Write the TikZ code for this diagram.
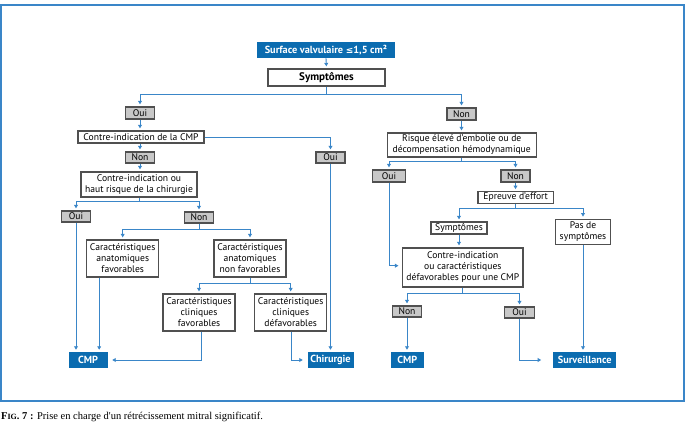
\documentclass[tikz,border=0pt]{standalone}
\usepackage{fontspec}
\setmainfont{PT Sans}
\newfontfamily\capfont{Liberation Serif}
\newfontfamily\symfont{DejaVu Sans}
\usetikzlibrary{arrows.meta}
\definecolor{lblue}{HTML}{3A86C8}
\definecolor{fblue}{HTML}{0B6CB0}
\definecolor{bgray}{HTML}{505050}
\definecolor{gfill}{HTML}{C8C8C8}
\begin{document}
\begin{tikzpicture}[x=1pt,y=-1pt,
  bw/.style={minimum width=#1pt},
  bh/.style={minimum height=#1pt},
  box/.style={draw=bgray, line width=1.2pt, fill=white, inner sep=0pt, align=center, font=\fontsize{9.6}{11}\selectfont},
  gbox/.style={box, fill=gfill},
  bbox/.style={fill=fblue, text=white, inner sep=0pt, align=center, font=\bfseries\fontsize{10.3}{11}\selectfont},
  ln/.style={draw=lblue, line width=0.9pt},
  arr/.style={ln, -{Triangle[length=3.5pt,width=3.8pt]}, shorten >=2pt}]
\useasboundingbox (0,0) rectangle (686,430);
\draw[lblue, line width=1.2pt] (1,5) rectangle (684,401);
% top
\node[bbox, bw=138, bh=16] (surf) at (326,50) {Surface valvulaire {\symfont\fontsize{9}{11}\selectfont ≤}1,5 cm²};
\node[box, bw=117, bh=17, font=\bfseries\fontsize{11}{12}\selectfont] (sym) at (326.5,77.5) {Symptômes};
% left branch
\node[gbox, bw=29, bh=12] (oui1) at (140,113) {Oui};
\node[box, bw=126, bh=12] (ci) at (141,137) {Contre-indication de la CMP};
\node[gbox, bw=29, bh=11] (oui2) at (330.5,157.5) {Oui};
\node[gbox, bw=29, bh=11] (non2) at (140,157.5) {Non};
\node[box, bw=116, bh=25] (chir1) at (139,184.5) {Contre-indication ou\\haut risque de la chirurgie};
\node[gbox, bw=28.5, bh=11] (oui3) at (76,216.5) {Oui};
\node[gbox, bw=29, bh=11] (non3) at (199,217.5) {Non};
\node[box, bw=72, bh=37] (anaf) at (122.7,258.5) {Caractéristiques\\anatomiques\\favorables};
\node[box, bw=72, bh=37] (anan) at (250,258.5) {Caractéristiques\\anatomiques\\non favorables};
\node[box, bw=72, bh=37] (clif) at (199,312.5) {Caractéristiques\\cliniques\\favorables};
\node[box, bw=72, bh=37] (clid) at (290.7,312.5) {Caractéristiques\\cliniques\\défavorables};
\node[bbox, bw=39, bh=16] (cmp1) at (88,360) {CMP};
\node[bbox, bw=46, bh=16] (chir) at (330.5,360) {Chirurgie};
% right branch
\node[gbox, bw=29, bh=12] (non1) at (461.5,114) {Non};
\node[box, bw=149, bh=24] (risk) at (461.7,145) {Risque élevé d'embolie ou de\\décompensation hémodynamique};
\node[gbox, bw=32.5, bh=12] (oui4) at (389,176) {Oui};
\node[gbox, bw=29, bh=12] (non4) at (515.5,176) {Non};
\node[box, bw=75.5, bh=11.5] (epr) at (515.7,197.5) {Epreuve d'effort};
\node[box, bw=56, bh=12] (sym2) at (459,228) {Symptômes};
\node[box, bw=55, bh=25] (pas) at (583,231.7) {Pas de\\symptômes};
\node[box, bw=120.5, bh=39] (ci2) at (462.8,267.5) {Contre-indication\\ou caractéristiques\\défavorables pour une CMP};
\node[gbox, bw=29.4, bh=11] (non5) at (407,311.5) {Non};
\node[gbox, bw=29.4, bh=11] (oui5) at (519.5,312.5) {Oui};
\node[bbox, bw=33, bh=16] (cmp2) at (407.3,360) {CMP};
\node[bbox, bw=62.6, bh=16] (surv) at (584.7,360) {Surveillance};
% caption
\node[anchor=west, inner sep=0pt, font=\capfont\fontsize{10.5}{12}\selectfont] (cap) at (1,417) {{\bfseries F{\fontsize{8}{9}\selectfont IG}. 7 :} Prise en charge d'un rétrécissement mitral significatif.};
% connectors top
\draw[arr] (surf.south) -- (sym.north);
\coordinate (j1) at (326.5,94.3);
\draw[ln] (sym.south) -- (j1);
\draw[arr] (j1) -| (oui1.north);
\draw[arr] (j1) -| (non1.north);
% left connectors
\draw[arr] (oui1.south) -- (oui1.south |- ci.north);
\draw[arr] (ci.east) -| (oui2.north);
\draw[arr] (non2.north |- ci.south) -- (non2.north);
\draw[arr] (non2.south) -- (non2.south |- chir1.north);
\coordinate (j2) at (139,201);
\draw[ln] (chir1.south) -- (j2);
\draw[arr] (j2) -| (oui3.north);
\draw[arr] (j2) -| (non3.north);
\coordinate (j3) at (199,229);
\draw[ln] (non3.south) -- (j3);
\draw[arr] (j3) -| (anaf.north);
\draw[arr] (j3) -| (anan.north);
\coordinate (j4) at (250,283);
\draw[ln] (anan.south) -- (j4);
\draw[arr] (j4) -| (clif.north);
\draw[arr] (j4) -| (clid.north);
\draw[arr] (oui3.south) -- (oui3.south |- cmp1.north);
\coordinate (a1) at ([xshift=-23.5pt]anaf.south);
\draw[arr] (a1) -- (a1 |- cmp1.north);
\coordinate (c1) at ([xshift=2.7pt]clif.south);
\draw[arr, shorten >=4.5pt] (c1) |- (cmp1.east);
\coordinate (c2) at ([xshift=0.7pt]clid.south);
\draw[arr, shorten >=4.5pt] (c2) |- (chir.west);
\draw[arr] (oui2.south) -- (oui2.south |- chir.north);
% right connectors
\draw[arr] (non1.south) -- (non1.south |- risk.north);
\coordinate (j5) at (461.7,161.3);
\draw[ln] (risk.south) -- (j5);
\draw[arr] (j5) -| (oui4.north);
\draw[arr] (j5) -| (non4.north);
\draw[arr] (non4.south) -- (non4.south |- epr.north);
\coordinate (j6) at (515.7,208.7);
\draw[ln] (epr.south) -- (j6);
\draw[arr] (j6) -| (sym2.north);
\draw[arr] (j6) -| (pas.north);
\draw[arr] (sym2.south) -- (sym2.south |- ci2.north);
\coordinate (o4) at ([yshift=1.8pt]ci2.west);
\draw[arr, shorten >=3.5pt] (oui4.south) |- (o4);
\coordinate (j7) at (462.8,293.3);
\draw[ln] (ci2.south) -- (j7);
\draw[arr] (j7) -| (non5.north);
\draw[arr] (j7) -| (oui5.north);
\draw[arr] (non5.south) -- (non5.south |- cmp2.north);
\draw[arr, shorten >=12pt] (oui5.south) |- (surv.west);
\draw[arr] (pas.south) -- (pas.south |- surv.north);
\end{tikzpicture}
\end{document}
